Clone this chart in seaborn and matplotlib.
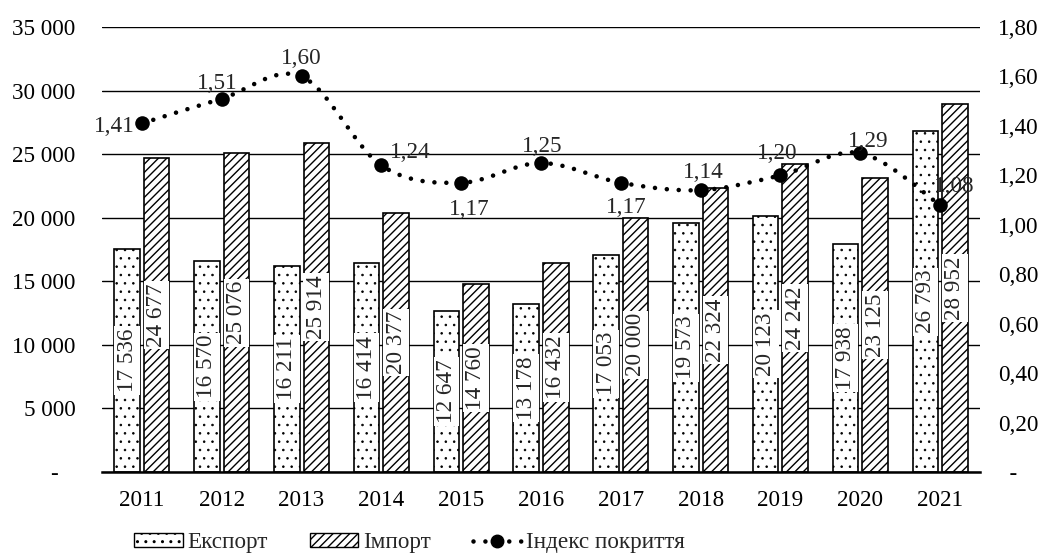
import numpy as np
import pandas as pd
import matplotlib
matplotlib.use("Agg")
import matplotlib.pyplot as plt
import seaborn as sns
from matplotlib.path import Path
from matplotlib.patches import PathPatch, Patch
from matplotlib.lines import Line2D
from matplotlib.ticker import FuncFormatter, MultipleLocator

# ---- data ----
years = ["2011", "2012", "2013", "2014", "2015", "2016", "2017", "2018", "2019", "2020", "2021"]
export_vals = [17536, 16570, 16211, 16414, 12647, 13178, 17053, 19573, 20123, 17938, 26793]
import_vals = [24677, 25076, 25914, 20377, 14760, 16432, 20000, 22324, 24242, 23125, 28952]
coverage = [1.41, 1.51, 1.60, 1.24, 1.17, 1.25, 1.17, 1.14, 1.20, 1.29, 1.08]
series_names = ["Експорт", "Імпорт", "Індекс покриття"]

sns.set_theme(style="white")
plt.rcParams["font.family"] = ["Liberation Serif", "DejaVu Serif"]
plt.rcParams["hatch.linewidth"] = 1.0
FS = 16.7

df = pd.DataFrame({
    "year": years * 2,
    "value": export_vals + import_vals,
    "series": [series_names[0]] * len(years) + [series_names[1]] * len(years),
})

fig = plt.figure(figsize=(10.5, 5.55), dpi=100)
ax = fig.add_axes([102 / 1050, 1 - 472 / 555, (980 - 102) / 1050, (472 - 27) / 555])

sns.barplot(data=df, x="year", y="value", hue="series", order=years,
            hue_order=series_names[:2], palette=["white", "white"],
            width=0.74, gap=0.135, edgecolor="black", linewidth=1.2,
            legend=False, ax=ax, zorder=3)

hatches = ["..", "////"]
hatch_lws = [0.6, 1.0]
for cont, h, hlw in zip(ax.containers, hatches, hatch_lws):
    for bar in cont:
        bar.set_hatch(h)
        bar.set_facecolor("white")
        bar.set_edgecolor("black")
        try:
            bar.set_hatch_linewidth(hlw)
        except AttributeError:
            pass

# bar value labels
for cont, vals in zip(ax.containers, [export_vals, import_vals]):
    for bar, v in zip(cont, vals):
        xc = bar.get_x() + bar.get_width() / 2
        ax.text(xc, v / 2, f"{v:,}".replace(",", " "), rotation=90,
                ha="center", va="center", fontsize=FS, zorder=5,
                bbox=dict(boxstyle="square,pad=0.1", facecolor="white", edgecolor="none"))

ax.set_xlim(-0.5, len(years) - 0.5)
ax.set_ylim(0, 35000)
ax.yaxis.set_major_locator(MultipleLocator(5000))
ax.yaxis.set_major_formatter(FuncFormatter(
    lambda v, p: "-   " if abs(v) < 1e-9 else f"{int(round(v)):,}".replace(",", " ")))
ax.grid(axis="y", color="black", linewidth=1.0, zorder=0)
ax.grid(axis="x", visible=False)
ax.set_axisbelow(True)
for s in ["top", "right", "left"]:
    ax.spines[s].set_visible(False)
ax.spines["bottom"].set_color("black")
ax.spines["bottom"].set_linewidth(1.8)
ax.spines["bottom"].set_zorder(6)
ax.tick_params(axis="y", length=0, pad=19, labelsize=FS, colors="black")
ax.tick_params(axis="x", length=0, pad=13, labelsize=FS, colors="black")
ax.set_xlabel("")
ax.set_ylabel("")

# secondary axis: coverage index
ax2 = ax.twinx()
ax2.set_ylim(0, 1.8)
ax2.yaxis.set_major_locator(MultipleLocator(0.2))
ax2.yaxis.set_major_formatter(FuncFormatter(
    lambda v, p: "  -" if abs(v) < 1e-9 else f"{v:.2f}".replace(".", ",")))
ax2.tick_params(axis="y", length=0, pad=13, labelsize=FS, colors="black")
for s in ax2.spines.values():
    s.set_visible(False)
ax2.grid(False)

xs = np.arange(len(years), dtype=float)
ys = np.array(coverage, dtype=float)
# smoothed (Catmull-Rom / Bezier) curve through the data points
verts = [(xs[0], ys[0])]
codes = [Path.MOVETO]
n = len(xs)
for i in range(n - 1):
    p0 = np.array([xs[max(i - 1, 0)], ys[max(i - 1, 0)]])
    p1 = np.array([xs[i], ys[i]])
    p2 = np.array([xs[i + 1], ys[i + 1]])
    p3 = np.array([xs[min(i + 2, n - 1)], ys[min(i + 2, n - 1)]])
    c1 = p1 + (p2 - p0) / 6.0
    c2 = p2 - (p3 - p1) / 6.0
    verts += [tuple(c1), tuple(c2), tuple(p2)]
    codes += [Path.CURVE4] * 3
curve = PathPatch(Path(verts, codes), fill=False, edgecolor="black",
                  linewidth=3.3, linestyle=(0, (0.001, 2.6)), zorder=4)
curve.set_capstyle("round")
ax2.add_patch(curve)
sns.scatterplot(x=xs, y=ys, ax=ax2, color="black", s=110, marker="o",
                edgecolor="black", linewidth=0, zorder=5, legend=False)

# label placement (offset points, alignment)
offsets = [(-5, -2, "right", "center"), (-3, 7, "center", "baseline"),
           (0, 8.6, "center", "baseline"), (6, 5, "left", "baseline"),
           (6, -23, "center", "baseline"), (1, 8, "center", "baseline"),
           (4, -21.6, "center", "baseline"), (2, 8.6, "center", "baseline"),
           (-2, 12, "center", "baseline"), (6, 4.3, "center", "baseline"),
           (10, 9.4, "center", "baseline")]
for x, y, (dx, dy, ha, va) in zip(xs, ys, offsets):
    ax2.annotate(f"{y:.2f}".replace(".", ","), (x, y), xytext=(dx, dy),
                 textcoords="offset points", ha=ha, va=va, fontsize=FS, zorder=6)

# legend
handles = [
    Patch(facecolor="white", edgecolor="black", hatch="..", linewidth=1.0),
    Patch(facecolor="white", edgecolor="black", hatch="////", linewidth=1.0),
    Line2D([0], [0], color="black", linewidth=3.3, linestyle=(0, (0.001, 2.6)),
           dash_capstyle="round", marker="o", markersize=9),
]
fig.legend(handles, series_names, loc="center", bbox_to_anchor=(0.39, 0.022),
           ncol=3, frameon=False, fontsize=FS, handlelength=2.1, handleheight=0.55,
           handletextpad=0.2, columnspacing=1.8, borderaxespad=0)

fig.savefig("out.png", dpi=100, facecolor="white")
